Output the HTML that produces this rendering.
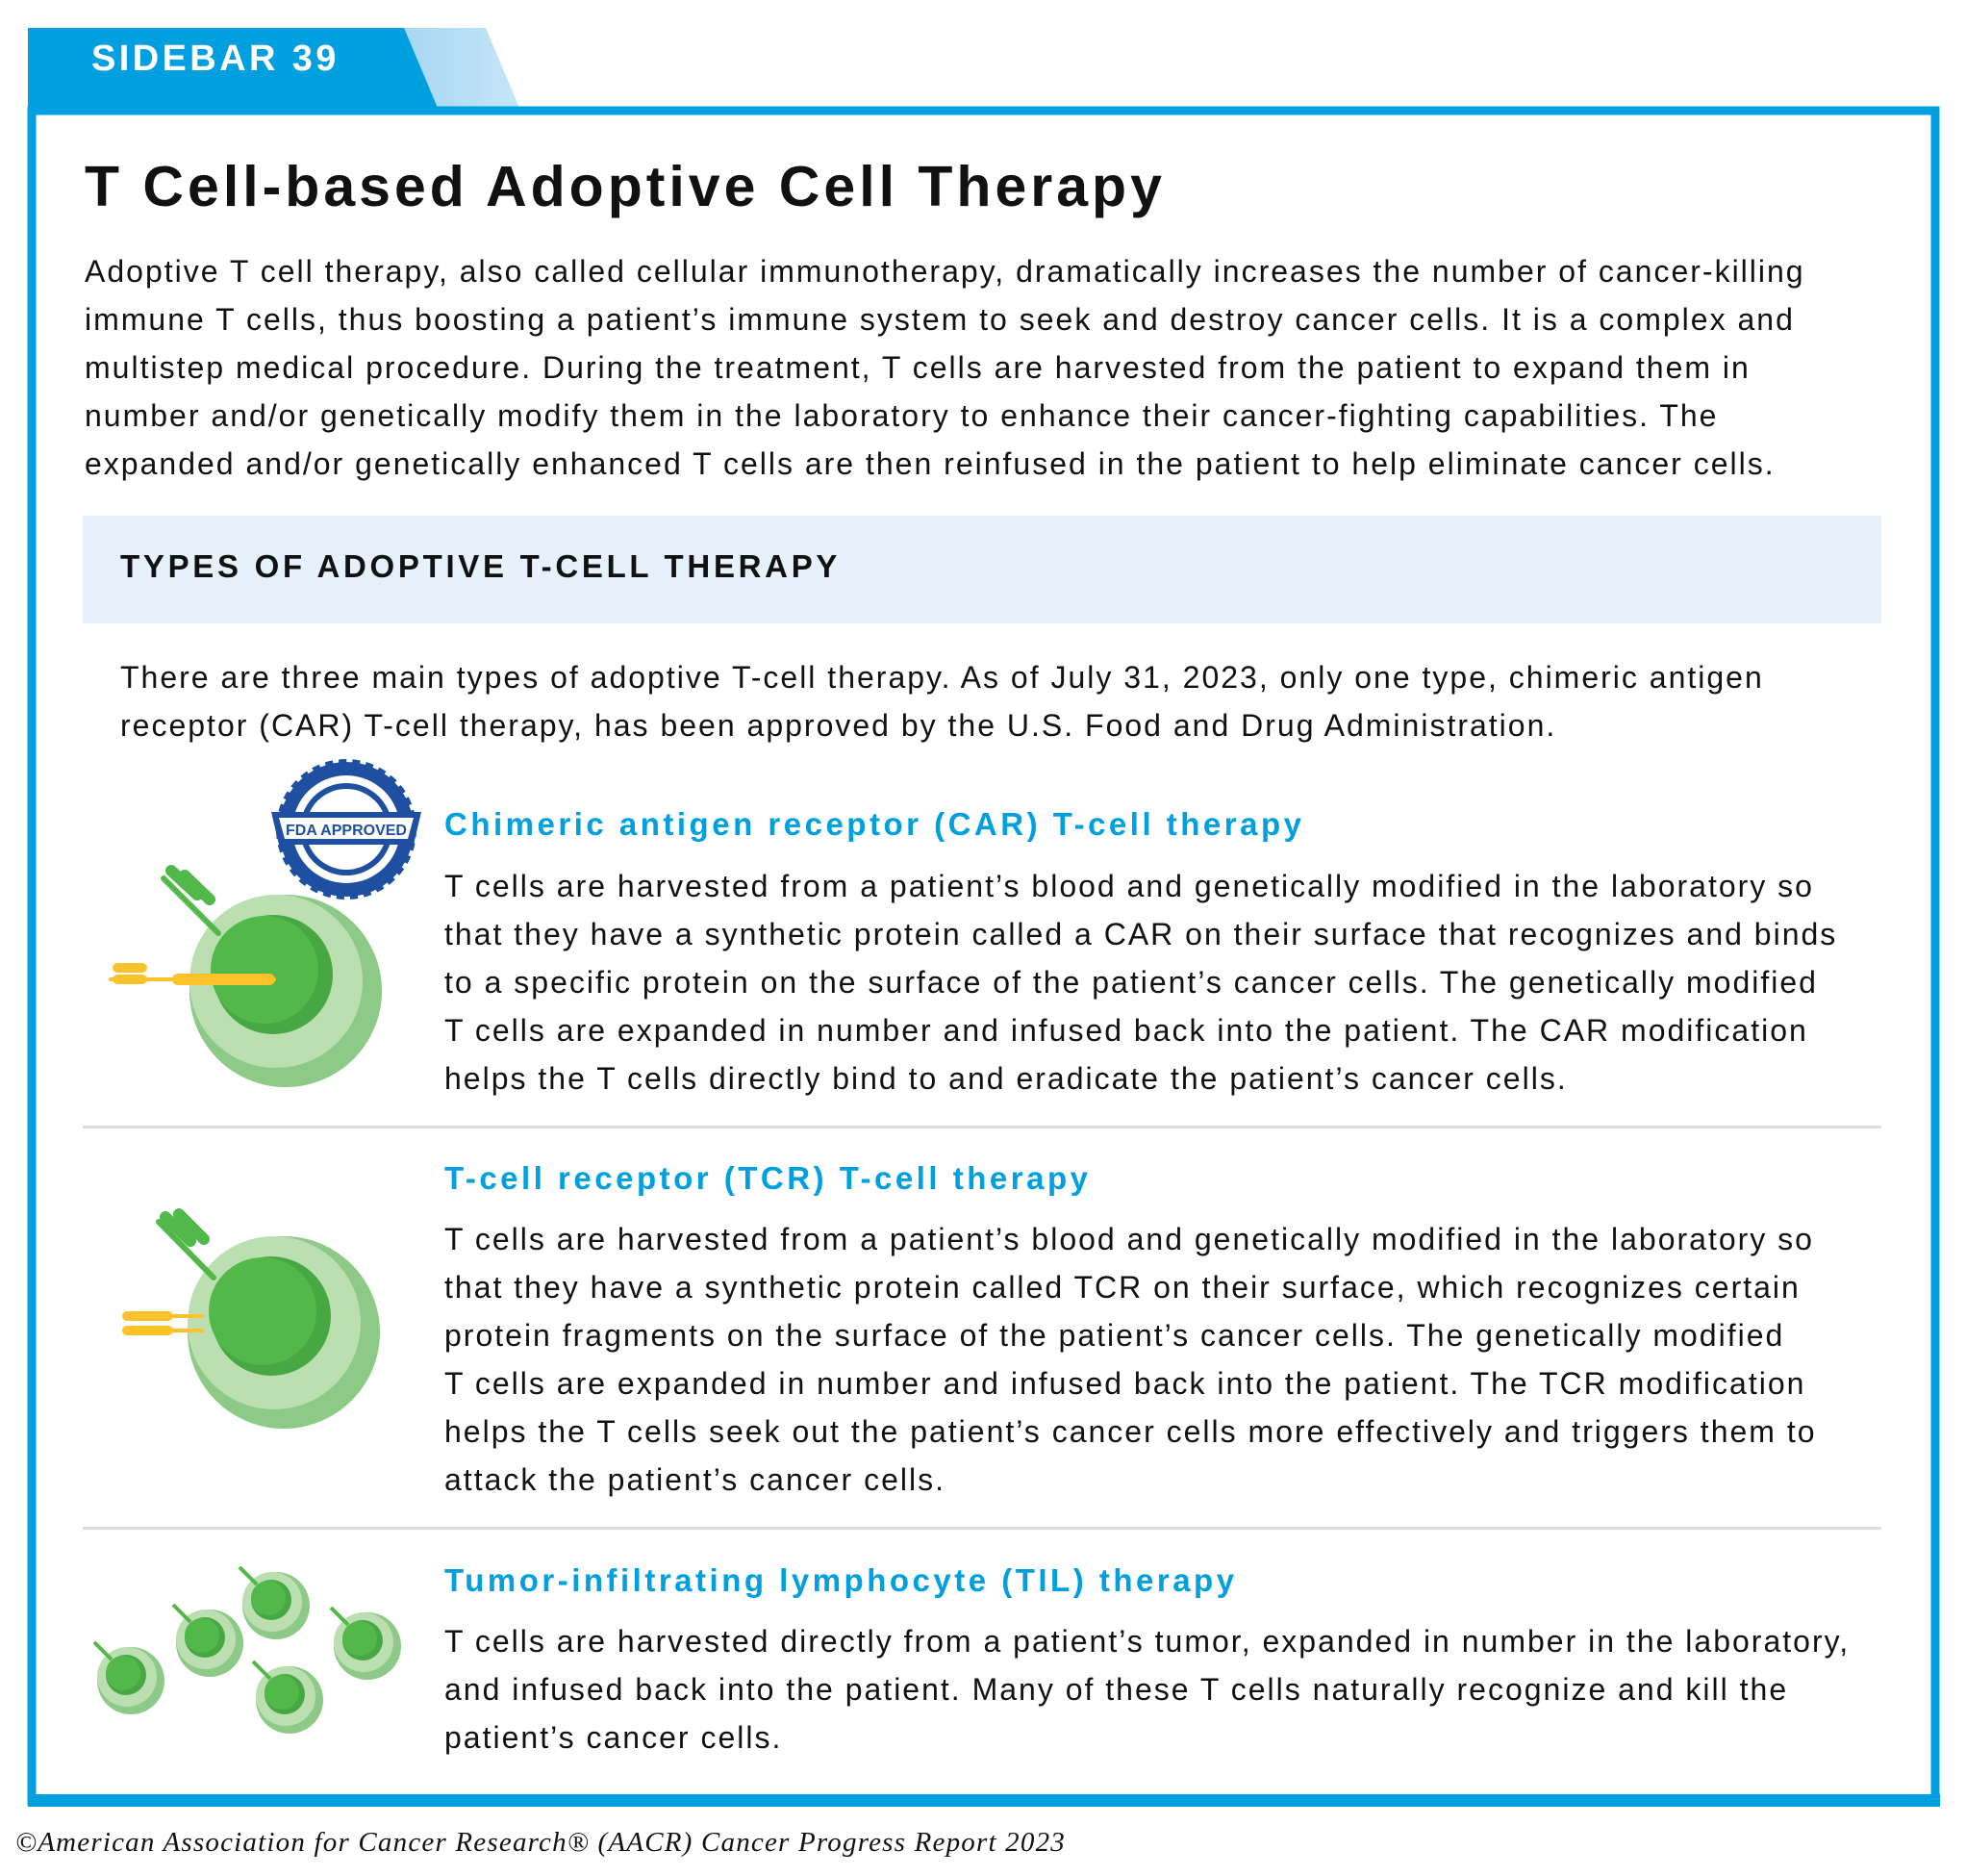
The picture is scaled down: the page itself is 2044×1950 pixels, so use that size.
<!DOCTYPE html>
<html><head><meta charset="utf-8"><style>
body{margin:0;width:2044px;height:1950px;background:#fff;position:relative;overflow:hidden;font-family:"Liberation Sans",sans-serif;color:#111}
.a{position:absolute;white-space:nowrap}
.p{font-size:32px;line-height:50px;letter-spacing:2px}
.h{font-size:33px;font-weight:bold;color:#009fdf;letter-spacing:3.5px}
</style></head><body>
<svg class="a" style="left:0;top:0" width="2044" height="1950">
<defs>
<linearGradient id="g" x1="0" x2="1"><stop offset="0" stop-color="#009fdf"/><stop offset=".4" stop-color="#5cbde9"/><stop offset=".7" stop-color="#9fd4f2"/><stop offset="1" stop-color="#c6e5f7"/></linearGradient>
<g id="cell"><circle r="100" fill="#8dca87"/><circle cx="-10" cy="-10" r="90" fill="#bcdfb2"/><circle cx="-13" cy="-17" r="62" fill="#47a843"/><circle cx="-22" cy="-22" r="56" fill="#52b84a"/></g>
<g id="sc"><circle r="35" fill="#8dca87"/><circle cx="-4" cy="-4" r="31" fill="#bcdfb2"/><circle cx="-5" cy="-6" r="21" fill="#47a843"/><circle cx="-8" cy="-8" r="18" fill="#52b84a"/><line x1="-20" y1="-22" x2="-38" y2="-40" stroke="#52b84a" stroke-width="4"/></g>
</defs>
<polygon points="29,29 505,29 540,112 29,112" fill="url(#g)"/>
<polygon points="29,29 420,29 455,112 29,112" fill="#009fdf"/>
<rect x="33" y="115" width="1979" height="1757" fill="none" stroke="#009fdf" stroke-width="9"/>
<rect x="29" y="1865" width="1988" height="13" fill="#009fdf"/>
<rect x="86" y="536" width="1870" height="112" fill="#e6f1fb"/>
<rect x="86" y="1170" width="1870" height="3" fill="#ddd"/>
<rect x="86" y="1587" width="1870" height="3" fill="#ddd"/>
<use href="#cell" x="297" y="1030"/>
<g stroke="#52b84a" stroke-linecap="round"><line x1="170" y1="913" x2="227" y2="970" stroke-width="6"/><line x1="178" y1="905" x2="205" y2="930" stroke-width="12"/><line x1="192" y1="910" x2="218" y2="935" stroke-width="12"/></g>
<g stroke="#fdc12a" stroke-linecap="round"><line x1="115" y1="1018" x2="285" y2="1018" stroke-width="4"/><line x1="185" y1="1018" x2="280" y2="1018" stroke-width="12"/><line x1="122" y1="1006" x2="148" y2="1006" stroke-width="10"/><line x1="122" y1="1018" x2="148" y2="1018" stroke-width="10"/></g>
<g transform="translate(360,862)"><circle r="70" fill="#1e4fa0" stroke="#1e4fa0" stroke-width="6" stroke-dasharray="8 6"/><circle r="56" fill="#fff"/><circle r="48" fill="#1e4fa0"/><circle r="42" fill="#fff"/><polygon points="-78,-18 78,-18 70,16 -70,16" fill="#1e4fa0"/><polygon points="-70,-12 70,-12 64,10 -64,10" fill="#fff"/><text x="0" y="6" text-anchor="middle" font-size="16" font-weight="bold" fill="#1e4fa0">FDA APPROVED</text></g>
<use href="#cell" x="295" y="1385"/>
<g stroke="#52b84a" stroke-linecap="round"><line x1="165" y1="1270" x2="222" y2="1328" stroke-width="6"/><line x1="172" y1="1265" x2="198" y2="1290" stroke-width="12"/><line x1="186" y1="1262" x2="212" y2="1288" stroke-width="12"/></g>
<g stroke="#fdc12a" stroke-linecap="round"><line x1="150" y1="1368" x2="210" y2="1368" stroke-width="4"/><line x1="150" y1="1383" x2="210" y2="1383" stroke-width="4"/><line x1="132" y1="1368" x2="175" y2="1368" stroke-width="10"/><line x1="132" y1="1383" x2="175" y2="1383" stroke-width="10"/></g>
<use href="#sc" x="136" y="1747"/><use href="#sc" x="218" y="1708"/><use href="#sc" x="287" y="1669"/><use href="#sc" x="382" y="1711"/><use href="#sc" x="301" y="1767"/>
</svg>
<div class="a" style="left:95px;top:40px;font-size:38px;font-weight:bold;color:#fff;letter-spacing:3.4px">SIDEBAR 39</div>
<div class="a" style="left:88px;top:160px;font-size:59px;font-weight:bold;letter-spacing:4px">T Cell-based Adoptive Cell Therapy</div>
<div class="a p" style="left:88px;top:257px">Adoptive T cell therapy, also called cellular immunotherapy, dramatically increases the number of cancer-killing<br>immune T cells, thus boosting a patient’s immune system to seek and destroy cancer cells. It is a complex and<br>multistep medical procedure. During the treatment, T cells are harvested from the patient to expand them in<br>number and/or genetically modify them in the laboratory to enhance their cancer-fighting capabilities. The<br>expanded and/or genetically enhanced T cells are then reinfused in the patient to help eliminate cancer cells.</div>
<div class="a" style="left:125px;top:570px;font-size:33px;font-weight:bold;letter-spacing:3.7px">TYPES OF ADOPTIVE T-CELL THERAPY</div>
<div class="a p" style="left:125px;top:679px">There are three main types of adoptive T-cell therapy. As of July 31, 2023, only one type, chimeric antigen<br>receptor (CAR) T-cell therapy, has been approved by the U.S. Food and Drug Administration.</div>
<div class="a h" style="left:462px;top:838px">Chimeric antigen receptor (CAR) T-cell therapy</div>
<div class="a p" style="left:462px;top:896px">T cells are harvested from a patient’s blood and genetically modified in the laboratory so<br>that they have a synthetic protein called a CAR on their surface that recognizes and binds<br>to a specific protein on the surface of the patient’s cancer cells. The genetically modified<br>T cells are expanded in number and infused back into the patient. The CAR modification<br>helps the T cells directly bind to and eradicate the patient’s cancer cells.</div>
<div class="a h" style="left:462px;top:1206px">T-cell receptor (TCR) T-cell therapy</div>
<div class="a p" style="left:462px;top:1263px">T cells are harvested from a patient’s blood and genetically modified in the laboratory so<br>that they have a synthetic protein called TCR on their surface, which recognizes certain<br>protein fragments on the surface of the patient’s cancer cells. The genetically modified<br>T cells are expanded in number and infused back into the patient. The TCR modification<br>helps the T cells seek out the patient’s cancer cells more effectively and triggers them to<br>attack the patient’s cancer cells.</div>
<div class="a h" style="left:462px;top:1624px">Tumor-infiltrating lymphocyte (TIL) therapy</div>
<div class="a p" style="left:462px;top:1681px">T cells are harvested directly from a patient’s tumor, expanded in number in the laboratory,<br>and infused back into the patient. Many of these T cells naturally recognize and kill the<br>patient’s cancer cells.</div>
<div class="a" style="left:16px;top:1899px;font-family:'Liberation Serif',serif;font-style:italic;font-size:29px;letter-spacing:1.2px">©American Association for Cancer Research® (AACR) Cancer Progress Report 2023</div>
</body></html>
